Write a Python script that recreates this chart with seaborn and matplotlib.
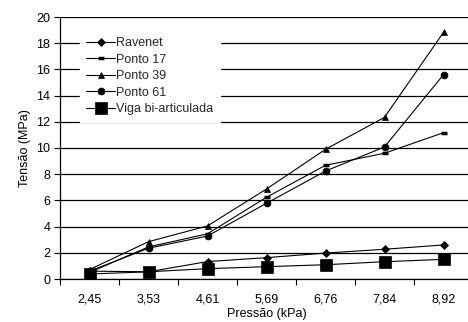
import matplotlib
matplotlib.use("Agg")
import matplotlib.pyplot as plt
import seaborn as sns
import pandas as pd

sns.set_theme(style="white")
plt.rcParams['font.family'] = ['Liberation Sans', 'DejaVu Sans']

categories = ["2,45", "3,53", "4,61", "5,69", "6,76", "7,84", "8,92"]
ravenet = [0.6, 0.55, 1.33, 1.63, 1.98, 2.27, 2.6]
ponto17 = [0.5, 2.45, 3.45, 6.24, 8.68, 9.6, 11.17]
ponto39 = [0.72, 2.85, 4.05, 6.87, 9.9, 12.34, 18.83]
ponto61 = [0.6, 2.35, 3.28, 5.78, 8.24, 10.08, 15.6]
viga = [0.38, 0.55, 0.79, 0.94, 1.09, 1.32, 1.5]

series = {
    "Ravenet": ravenet,
    "Ponto 17": ponto17,
    "Ponto 39": ponto39,
    "Ponto 61": ponto61,
    "Viga bi-articulada": viga,
}
rows = []
for name, vals in series.items():
    for i, v in enumerate(vals):
        rows.append({"serie": name, "x": i, "y": v})
df = pd.DataFrame(rows)

markers = {"Ravenet": "D", "Ponto 17": "_", "Ponto 39": "^", "Ponto 61": "o", "Viga bi-articulada": "s"}
msizes = {"Ravenet": 4, "Ponto 17": 4.5, "Ponto 39": 5, "Ponto 61": 5, "Viga bi-articulada": 9}

FS = 9
W, H = 468, 322
fig = plt.figure(figsize=(W / 100, H / 100), dpi=100)
ax = fig.add_axes([60 / W, 1 - 279 / H, (473 - 60) / W, (279 - 17) / H])

for name in series:
    sub = df[df.serie == name]
    sns.lineplot(data=sub, x="x", y="y", ax=ax, color="black", linewidth=0.8,
                 marker=markers[name], markersize=msizes[name],
                 markeredgecolor="black", markerfacecolor="black",
                 markeredgewidth=2.5 if name == "Ponto 17" else 0.5,
                 label=name, legend=False)

ax.set_xlim(-0.5, 6.5)
ax.set_ylim(0, 20)
ax.set_yticks(range(0, 21, 2))
ax.set_xticks(range(7))
ax.set_xticklabels(categories)
ax.set_xticks([i - 0.5 for i in range(8)], minor=True)
ax.yaxis.grid(True, color="black", linewidth=0.9)
ax.set_axisbelow(True)
for s in ["top", "right"]:
    ax.spines[s].set_visible(False)
for s in ["left", "bottom"]:
    ax.spines[s].set_color("black")
    ax.spines[s].set_linewidth(0.9)
ax.tick_params(axis="x", which="major", length=0, pad=10.5, labelsize=FS, colors="black")
ax.tick_params(axis="x", which="minor", length=4, width=0.8, direction="out", color="black", bottom=True)
ax.tick_params(axis="y", length=4, width=0.8, direction="out", left=True, labelsize=FS, colors="black", pad=3)
ax.set_xlabel("Pressão (kPa)", fontsize=FS, color="black", labelpad=2)
ax.set_ylabel("Tensão (MPa)", fontsize=FS, color="black", labelpad=4)

leg = ax.legend(loc="upper left", bbox_to_anchor=(20 / 413, 1 - 14 / 262), frameon=True, fontsize=FS,
                handlelength=2.3, handletextpad=0.1, labelspacing=0.36, borderpad=0.5,
                borderaxespad=0)
leg.get_frame().set_facecolor("white")
leg.get_frame().set_edgecolor("white")
leg.get_frame().set_alpha(1)
leg.get_frame().set_boxstyle("square", pad=0)

fig.savefig("out.png", dpi=100)
